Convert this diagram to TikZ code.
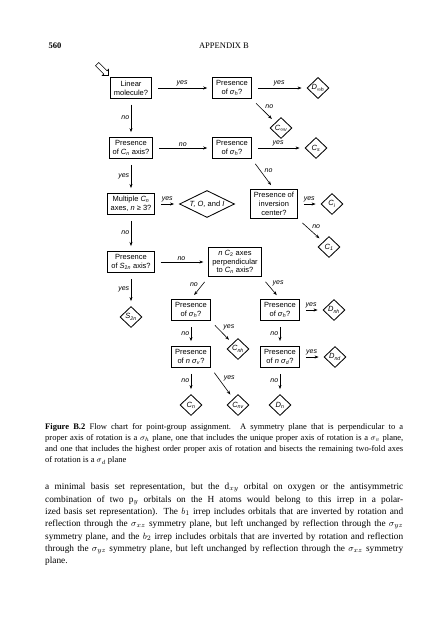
\documentclass[tikz,border=0pt]{standalone}
\usepackage{fontspec}
\setmainfont{Liberation Serif}
\setsansfont{Liberation Sans}
\usepackage{tikz}
\usetikzlibrary{positioning,shapes.geometric,shapes.arrows,arrows.meta}

\newcommand{\fsub}[1]{\textsubscript{#1}}
\newcommand{\flowfont}{\sffamily\fontsize{7.5}{8.7}\selectfont}

\tikzset{
  qbox/.style={draw, line width=0.85pt, align=center, inner xsep=3.5pt, inner ysep=3pt, font=\flowfont},
  endpt/.style={draw, diamond, line width=0.85pt, minimum width=22pt, minimum height=21pt, inner sep=0.5pt, font=\flowfont\itshape},
  flow/.style={->, line width=0.6pt, shorten <=6pt, shorten >=5pt},
  lbl/.style={font=\sffamily\itshape\fontsize{7}{8}\selectfont, inner sep=1.5pt},
  para/.style={anchor=north west, text width=358pt, align=justify, inner sep=0pt}
}

\begin{document}
\begin{tikzpicture}[x=1pt, y=-1pt, on grid, >={Stealth[length=4pt, width=3pt]}]
    \fill[white] (0,0) rectangle (441,640);
    \useasboundingbox (0,0) rectangle (441,640);

    \node[anchor=base west, font=\fontsize{8.5}{10}\selectfont\bfseries] (page) at (45,48) {560};
    \node[anchor=base, font=\fontsize{8.5}{10}\selectfont] (head) at (224,48) {APPENDIX B};

    \node[draw, single arrow, rotate=-45, line width=0.6pt, minimum height=16pt, single arrow head extend=2pt, inner sep=2pt] (start) at (102,69) {};

    \node[qbox] (linear) at (131,88) {Linear\\molecule?};
    \node[qbox, below=60pt of linear] (cnax) {Presence\\of \textit{C}\fsub{\textit{n}} axis?};
    \node[qbox, below=56pt of cnax] (multi) {Multiple \textit{C}\fsub{\textit{n}}\\axes, \textit{n} ≥ 3?};
    \node[qbox, below=58pt of multi] (s2nax) {Presence\\of \textit{S}\fsub{2\textit{n}} axis?};
    \node[endpt, below=55pt of s2nax] (S2n) {S\fsub{2n}};

    \node[qbox, right=101pt of linear] (sigh1) {Presence\\of \textit{σ}\fsub{\textit{h}}?};
    \node[endpt, right=86pt of sigh1] (Dinfh) {D\fsub{∞h}};
    \node[endpt, below right=40pt and 49pt of sigh1] (Cinfv) {C\fsub{∞v}};
    \node[qbox, right=101pt of cnax] (sigh2) {Presence\\of \textit{σ}\fsub{\textit{h}}?};
    \node[endpt, right=84pt of sigh2] (Cs) {C\fsub{s}};

    \node[endpt, aspect=2, minimum width=55pt, minimum height=27pt, right=76pt of multi] (TOI) {T, O, \textup{and} I};
    \node[qbox, right=67pt of TOI] (inv) {Presence of\\inversion\\center?};
    \node[endpt, right=58pt of inv] (Ci) {C\fsub{i}};
    \node[endpt, below right=43pt and 55pt of inv] (C1) {C\fsub{1}};

    \node[qbox, right=104pt of s2nax] (nC2) {\textit{n C}\fsub{2} axes\\perpendicular\\to \textit{C}\fsub{\textit{n}} axis?};
    \node[qbox, below left=48pt and 44pt of nC2] (sighL) {Presence\\of \textit{σ}\fsub{\textit{h}}?};
    \node[qbox, below right=48pt and 45pt of nC2] (sighR) {Presence\\of \textit{σ}\fsub{\textit{h}}?};
    \node[endpt, right=54pt of sighR] (Dnh) {D\fsub{nh}};
    \node[qbox, below=47pt of sighL] (nsigv) {Presence\\of \textit{n σ}\fsub{\textit{v}}?};
    \node[endpt, below right=39pt and 47pt of sighL] (Cnh) {C\fsub{nh}};
    \node[qbox, below=47pt of sighR] (nsigd) {Presence\\of \textit{n σ}\fsub{\textit{d}}?};
    \node[endpt, right=55pt of nsigd] (Dnd) {D\fsub{nd}};
    \node[endpt, below=48pt of nsigv] (Cn) {C\fsub{n}};
    \node[endpt, right=47pt of Cn] (Cnv) {C\fsub{nv}};
    \node[endpt, below=48pt of nsigd] (Dn) {D\fsub{n}};

    \draw[flow] (linear) -- node[lbl, above] (l1) {yes} (sigh1);
    \draw[flow] (sigh1) -- node[lbl, above] (l2) {yes} (Dinfh);
    \draw[flow] (sigh1.south east) -- node[lbl, above right] (l3) {no} (Cinfv);
    \draw[flow] (linear) -- node[lbl, left] (l4) {no} (cnax);
    \draw[flow] (cnax) -- node[lbl, above] (l5) {no} (sigh2);
    \draw[flow] (sigh2) -- node[lbl, above] (l6) {yes} (Cs);
    \draw[flow] (sigh2.south east) -- node[lbl, above right] (l7) {no} (inv.north);
    \draw[flow] (cnax) -- node[lbl, left] (l8) {yes} (multi);
    \draw[flow] (multi) -- node[lbl, above] (l9) {yes} (TOI);
    \draw[flow] (inv) -- node[lbl, above] (l10) {yes} (Ci);
    \draw[flow] (inv.south east) -- node[lbl, above right] (l11) {no} (C1);
    \draw[flow] (multi) -- node[lbl, left] (l12) {no} (s2nax);
    \draw[flow] (s2nax) -- node[lbl, above] (l13) {no} (nC2);
    \draw[flow] (s2nax) -- node[lbl, left] (l14) {yes} (S2n);
    \draw[flow] (nC2.south west) -- node[lbl, above left] (l15) {no} (sighL.north);
    \draw[flow] (nC2.south east) -- node[lbl, above right] (l16) {yes} (sighR.north);
    \draw[flow] (sighR) -- node[lbl, above] (l17) {yes} (Dnh);
    \draw[flow] (sighL) -- node[lbl, left] (l18) {no} (nsigv);
    \draw[flow] (sighL.south east) -- node[lbl, above right] (l19) {yes} (Cnh);
    \draw[flow] (sighR) -- node[lbl, left] (l20) {no} (nsigd);
    \draw[flow] (nsigd) -- node[lbl, above] (l21) {yes} (Dnd);
    \draw[flow] (nsigv) -- node[lbl, left] (l22) {no} (Cn);
    \draw[flow] (nsigv.south east) -- node[lbl, above right] (l23) {yes} (Cnv);
    \draw[flow] (nsigd) -- node[lbl, left] (l24) {no} (Dn);

    \node[para, font=\fontsize{8.5}{11.2}\selectfont] (caption) at (45,423) {\tolerance=9999 \hyphenpenalty=10000
      \textbf{Figure B.2}\enspace Flow chart for point-group assignment. A symmetry plane that is perpendicular to a\linebreak
      proper axis of rotation is a $\sigma_h$ plane, one that includes the unique proper axis of rotation is a $\sigma_v$ plane,\linebreak
      and one that includes the highest order proper axis of rotation and bisects the remaining two-fold axes\linebreak
      of rotation is a $\sigma_d$ plane};

    \node[para, font=\fontsize{9.3}{12.35}\selectfont] (body) at (45,483) {\tolerance=9999 \hyphenpenalty=10000
      a minimal basis set representation, but the $\mathrm{d}_{xy}$ orbital on oxygen or the antisymmetric\linebreak
      combination of two $\mathrm{p}_y$ orbitals on the H atoms would belong to this irrep in a polar-\linebreak
      ized basis set representation). The $b_1$ irrep includes orbitals that are inverted by rotation and\linebreak
      reflection through the $\sigma_{xz}$ symmetry plane, but left unchanged by reflection through the $\sigma_{yz}$\linebreak
      symmetry plane, and the $b_2$ irrep includes orbitals that are inverted by rotation and reflection\linebreak
      through the $\sigma_{yz}$ symmetry plane, but left unchanged by reflection through the $\sigma_{xz}$ symmetry\linebreak
      plane.};
\end{tikzpicture}
\end{document}
